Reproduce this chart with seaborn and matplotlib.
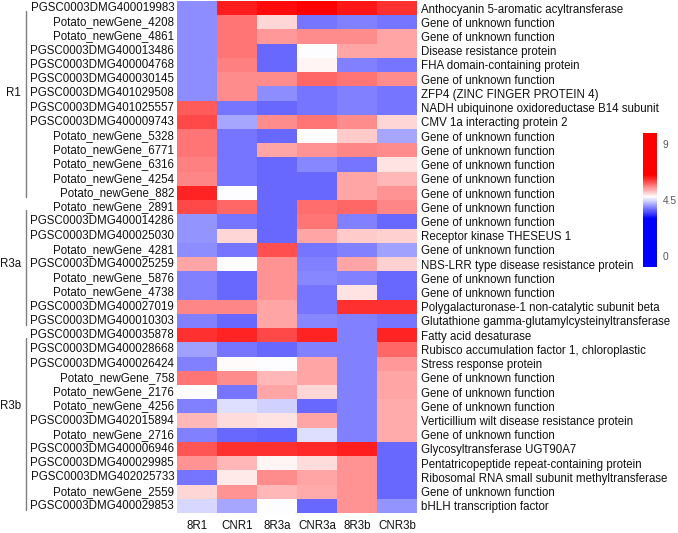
import numpy as np
import pandas as pd
import matplotlib
matplotlib.use("Agg")
import matplotlib.pyplot as plt
import seaborn as sns
from matplotlib.colors import LinearSegmentedColormap
from matplotlib.lines import Line2D
from matplotlib.transforms import blended_transform_factory

samples = ["8R1", "CNR1", "8R3a", "CNR3a", "8R3b", "CNR3b"]

gene_ids = [
    "PGSC0003DMG400019983", "Potato_newGene_4208", "Potato_newGene_4861",
    "PGSC0003DMG400013486", "PGSC0003DMG400004768", "PGSC0003DMG400030145",
    "PGSC0003DMG401029508", "PGSC0003DMG401025557", "PGSC0003DMG400009743",
    "Potato_newGene_5328", "Potato_newGene_6771", "Potato_newGene_6316",
    "Potato_newGene_4254", "Potato_newGene_882", "Potato_newGene_2891",
    "PGSC0003DMG400014286", "PGSC0003DMG400025030", "Potato_newGene_4281",
    "PGSC0003DMG400025259", "Potato_newGene_5876", "Potato_newGene_4738",
    "PGSC0003DMG400027019", "PGSC0003DMG400010303", "PGSC0003DMG400035878",
    "PGSC0003DMG400028668", "PGSC0003DMG400026424", "Potato_newGene_758",
    "Potato_newGene_2176", "Potato_newGene_4256", "PGSC0003DMG402015894",
    "Potato_newGene_2716", "PGSC0003DMG400006946", "PGSC0003DMG400029985",
    "PGSC0003DMG402025733", "Potato_newGene_2559", "PGSC0003DMG400029853",
]

annotations = [
    "Anthocyanin 5-aromatic acyltransferase", "Gene of unknown function",
    "Gene of unknown function", "Disease resistance protein",
    "FHA domain-containing protein", "Gene of unknown function",
    "ZFP4 (ZINC FINGER PROTEIN 4)", "NADH ubiquinone oxidoreductase B14 subunit",
    "CMV 1a interacting protein 2", "Gene of unknown function",
    "Gene of unknown function", "Gene of unknown function",
    "Gene of unknown function", "Gene of unknown function",
    "Gene of unknown function", "Gene of unknown function",
    "Receptor kinase THESEUS 1", "Gene of unknown function",
    "NBS-LRR type disease resistance protein", "Gene of unknown function",
    "Gene of unknown function", "Polygalacturonase-1 non-catalytic subunit beta",
    "Glutathione gamma-glutamylcysteinyltransferase", "Fatty acid desaturase",
    "Rubisco accumulation factor 1, chloroplastic", "Stress response protein",
    "Gene of unknown function", "Gene of unknown function",
    "Gene of unknown function", "Verticillium wilt disease resistance protein",
    "Gene of unknown function", "Glycosyltransferase UGT90A7",
    "Pentatricopeptide repeat-containing protein",
    "Ribosomal RNA small subunit methyltransferase",
    "Gene of unknown function", "bHLH transcription factor",
]

groups = ["R1", "R3a", "R3b"]
group_sizes = [14, 9, 13]
group_label_rows = [6, 18, 28]

values = [
    [3.96, 6.30, 6.40, 6.60, 6.35, 6.15],
    [3.96, 5.71, 5.01, 3.79, 3.88, 3.79],
    [3.96, 5.71, 5.45, 5.54, 5.54, 5.36],
    [3.96, 5.71, 3.70, 4.72, 5.36, 5.36],
    [3.96, 5.63, 3.70, 4.80, 3.88, 3.79],
    [3.96, 5.54, 5.54, 5.80, 5.71, 5.54],
    [3.96, 5.54, 3.96, 3.79, 3.88, 3.79],
    [5.89, 3.79, 3.74, 3.79, 3.88, 3.79],
    [5.98, 4.14, 5.54, 5.71, 5.54, 5.01],
    [5.71, 3.79, 3.70, 4.75, 5.10, 4.14],
    [5.71, 3.79, 5.36, 5.49, 5.57, 5.54],
    [5.63, 3.79, 3.70, 3.93, 3.79, 4.96],
    [5.57, 3.79, 3.70, 3.74, 5.36, 5.24],
    [6.24, 4.72, 3.70, 3.74, 5.36, 5.49],
    [6.01, 5.80, 3.70, 5.75, 5.80, 5.57],
    [4.00, 3.79, 3.70, 5.71, 3.88, 3.74],
    [4.00, 5.01, 3.70, 5.36, 5.10, 5.05],
    [3.96, 3.79, 5.95, 3.79, 3.88, 4.09],
    [5.36, 4.72, 5.49, 3.88, 5.36, 5.07],
    [3.88, 3.74, 5.49, 3.93, 3.88, 3.74],
    [3.88, 3.74, 5.49, 3.79, 4.96, 3.70],
    [5.57, 5.57, 5.36, 3.79, 6.15, 6.15],
    [3.88, 3.74, 5.36, 3.93, 3.88, 3.79],
    [6.15, 6.24, 6.01, 6.24, 3.88, 6.24],
    [4.09, 3.79, 3.70, 3.88, 3.88, 5.80],
    [3.88, 4.78, 4.72, 5.36, 3.88, 5.45],
    [5.71, 5.54, 5.24, 5.36, 3.88, 5.36],
    [4.72, 3.79, 5.36, 5.01, 3.88, 5.36],
    [3.88, 4.54, 4.45, 3.74, 3.88, 5.31],
    [5.24, 4.98, 4.93, 5.36, 3.88, 5.31],
    [3.88, 3.74, 3.67, 4.54, 3.88, 5.31],
    [5.92, 6.15, 6.15, 6.19, 6.29, 3.74],
    [5.49, 5.24, 4.80, 4.98, 5.49, 3.74],
    [3.79, 4.89, 5.54, 5.36, 5.49, 3.74],
    [5.01, 5.49, 5.24, 5.31, 5.49, 3.74],
    [4.49, 4.14, 4.72, 3.74, 5.49, 4.00],
]

cbar_ticks = [0, 4.5, 9]
cbar_ticklabels = ["0", "4.5", "9"]

sns.set_theme(style="white")
plt.rcParams["font.family"] = ["Liberation Sans", "DejaVu Sans"]

VMIN, VMAX = -0.9, 9.9
def frac(v):
    return (v - VMIN) / (VMAX - VMIN)

cmap = LinearSegmentedColormap.from_list(
    "bwr_sat",
    [(0.0, "#0000FF"), (frac(3.0), "#0000FF"), (frac(4.75), "#FFFFFF"),
     (frac(6.5), "#FF0000"), (1.0, "#FF0000")],
)

W, H = 678, 533
fig = plt.figure(figsize=(W / 100, H / 100), dpi=100)
ax = fig.add_axes([177 / W, 1 - 513 / H, 240 / W, 512 / H])
cax = fig.add_axes([643 / W, 1 - 267 / H, 14 / W, 134 / H])

df = pd.DataFrame(values, index=gene_ids, columns=samples)
sns.heatmap(df, ax=ax, cmap=cmap, vmin=VMIN, vmax=VMAX, cbar_ax=cax,
            xticklabels=True, yticklabels=True,
            cbar_kws={"ticks": cbar_ticks})

fs = 8.3
ax.set_xlabel("")
ax.set_ylabel("")
ax.tick_params(axis="x", length=0, labelsize=fs, pad=5, colors="#111111")
ax.tick_params(axis="y", length=0, labelsize=fs, pad=2, colors="#111111")
plt.setp(ax.get_xticklabels(), rotation=0)
plt.setp(ax.get_yticklabels(), rotation=0)

ax2 = ax.twinx()
ax2.set_ylim(ax.get_ylim())
ax2.set_yticks(np.arange(len(annotations)) + 0.5)
ax2.set_yticklabels(annotations)
ax2.tick_params(axis="y", length=0, labelsize=fs, pad=3, colors="#111111")
for s in ax2.spines.values():
    s.set_visible(False)

cax.set_yticklabels(cbar_ticklabels)
cax.tick_params(length=0, labelsize=7.3, colors="#555555", pad=4)

trans = blended_transform_factory(fig.transFigure, ax.transData)
start = 0
for g, n, lr in zip(groups, group_sizes, group_label_rows):
    line = Line2D([26 / W, 26 / W], [start + 0.7, start + n - 0.2],
                  transform=trans, color="#7f7f7f", lw=1.0, clip_on=False)
    fig.add_artist(line)
    fig.text(21 / W, lr + 0.5, g, transform=trans, ha="right", va="center",
             fontsize=fs, color="#111111")
    start += n

fig.savefig("out.png", dpi=100)
